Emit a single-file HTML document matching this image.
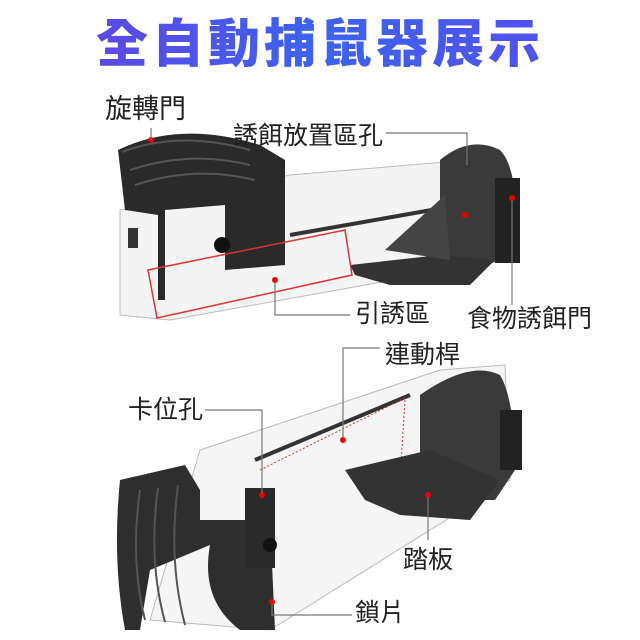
<!DOCTYPE html>
<html><head><meta charset="utf-8"><style>
html,body{margin:0;padding:0;background:#fff;}
.w{position:relative;width:640px;height:640px;overflow:hidden;font-family:"Liberation Sans","Noto Sans CJK TC",sans-serif;}
.t{position:absolute;color:#222;font-size:25px;line-height:1;white-space:nowrap;}
h1{position:absolute;margin:0;left:0;width:640px;top:8px;text-align:center;font-size:52px;font-weight:900;line-height:64px;letter-spacing:4px;
background:linear-gradient(90deg,#6a3de0,#3c63f0 50%,#5a4ae8);-webkit-background-clip:text;background-clip:text;color:transparent;font-family:"Noto Sans CJK TC",sans-serif;}
</style></head><body><div class="w">
<h1>全自動捕鼠器展示</h1>
<svg width="640" height="640" style="position:absolute;left:0;top:0">
<path d="M120 210 L290 175 L470 160 L505 165 L505 260 L170 320 L120 315 Z" fill="#f4f4f4" stroke="#bbb"/>
<path d="M290 235 L460 205" stroke="#333" stroke-width="4"/>
<path d="M440 160 Q470 135 500 150 Q520 170 515 250 L480 270 L440 265 Z" fill="#3a3a3a"/>
<rect x="495" y="178" width="25" height="85" fill="#222"/>
<path d="M350 265 L440 255 L495 260 L470 285 L390 285 L355 275 Z" fill="#333"/>
<path d="M385 250 L445 195 L450 260 Z" fill="#444"/>
<path d="M118 150 Q180 120 260 145 L285 160 L285 265 L225 270 L225 205 L165 210 L165 300 L158 300 L158 215 L125 210 Z" fill="#2a2a2a"/>
<path d="M122 152 Q180 130 250 150" stroke="#555" stroke-width="2" fill="none"/>
<path d="M130 170 Q190 150 250 165" stroke="#555" stroke-width="2" fill="none"/>
<path d="M135 185 Q195 165 255 180" stroke="#555" stroke-width="2" fill="none"/>
<circle cx="222" cy="245" r="8" fill="#111"/>
<path d="M128 228 h10 v20 h-10 Z" fill="#333"/>
<path d="M148 270 L345 230 L352 275 L157 318 Z" fill="none" stroke="#d33" stroke-width="1.5"/>
<circle cx="151" cy="140" r="3" fill="#e00"/><circle cx="275" cy="280" r="3" fill="#e00"/>
<circle cx="465" cy="215" r="3" fill="#e00"/><circle cx="512" cy="198" r="3" fill="#e00"/>
<path d="M200 450 L440 370 L505 365 L510 480 L270 630 L150 620 Z" fill="#f5f5f5" stroke="#bbb"/>
<path d="M255 460 L410 395" stroke="#333" stroke-width="4"/>
<path d="M260 470 L405 398" stroke="#d33" stroke-dasharray="2,2"/>
<path d="M405 400 L400 480" stroke="#d33" stroke-dasharray="2,2"/>
<path d="M420 395 Q470 360 500 375 Q515 400 515 470 L495 500 L420 500 Z" fill="#3a3a3a"/>
<rect x="500" y="410" width="22" height="60" fill="#222"/>
<path d="M345 470 L430 450 L500 480 L470 520 L400 515 L365 500 Z" fill="#333"/>
<path d="M120 480 L185 465 L200 490 L200 520 L270 520 L275 630 L240 630 Q200 600 210 545 L150 570 L140 630 L125 630 Q112 560 120 480 Z" fill="#2e2e2e"/>
<path d="M140 490 Q130 560 145 620 M158 488 Q148 560 165 622 M178 485 Q168 560 185 625" stroke="#555" stroke-width="2" fill="none"/>
<rect x="245" y="488" width="30" height="80" fill="#2a2a2a"/>
<circle cx="270" cy="545" r="7" fill="#111"/>
<circle cx="343" cy="440" r="3" fill="#e00"/><circle cx="262" cy="495" r="3" fill="#e00"/>
<circle cx="428" cy="495" r="3" fill="#e00"/><circle cx="272" cy="602" r="3" fill="#e00"/>
<g stroke="#777" stroke-width="1.2" fill="none">
<path d="M151 128 V140"/>
<path d="M386 133 H467 V165"/>
<path d="M350 315 H275 V282"/>
<path d="M512 200 V305"/>
<path d="M380 348 H343 V438"/>
<path d="M205 410 H262 V493"/>
<path d="M428 497 V540"/>
<path d="M352 615 H272 V604"/>
</g>
</svg>
<div class="t" style="left:105px;top:96px;font-size:27px">旋轉門</div>
<div class="t" style="left:233px;top:124px">誘餌放置區孔</div>
<div class="t" style="left:355px;top:302px">引誘區</div>
<div class="t" style="left:467px;top:307px">食物誘餌門</div>
<div class="t" style="left:385px;top:343px">連動桿</div>
<div class="t" style="left:128px;top:398px">卡位孔</div>
<div class="t" style="left:403px;top:548px">踏板</div>
<div class="t" style="left:355px;top:601px">鎖片</div>
</div></body></html>
